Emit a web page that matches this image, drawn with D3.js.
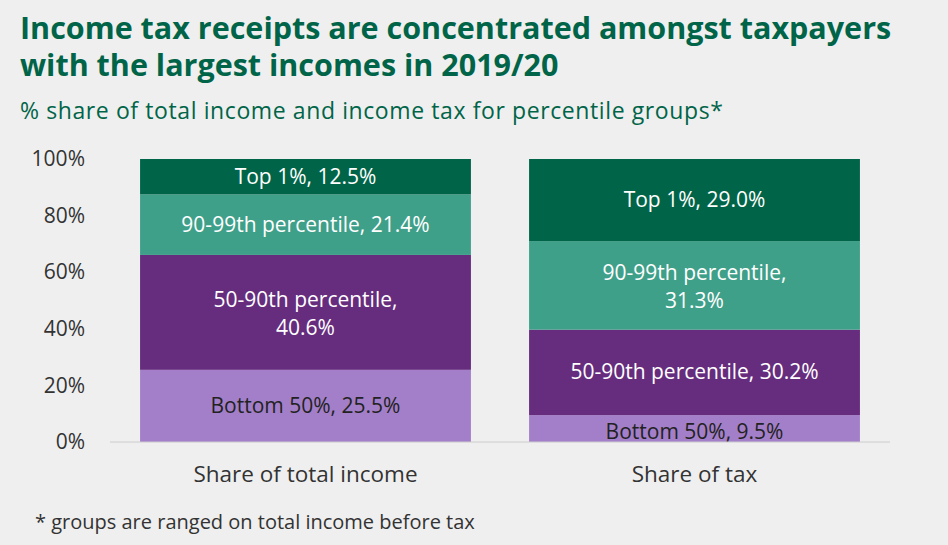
<!DOCTYPE html>
<html><head><meta charset="utf-8">
<script src="https://cdn.jsdelivr.net/npm/d3@7"></script>
<style>body{margin:0;background:#efefef;}svg{font-family:"Open Sans",Lato,sans-serif;}</style>
</head><body><div id="chart"></div>
<script>
// DATA
const categories = ["Share of total income", "Share of tax"];
const groups = ["Bottom 50%", "50-90th percentile", "90-99th percentile", "Top 1%"];
const incomeShare = [25.5, 40.6, 21.4, 12.5];
const taxShare = [9.5, 30.2, 31.3, 29.0];
const yTicks = [0, 20, 40, 60, 80, 100];
const colors = ["#a47fc9", "#662d7e", "#3fa08a", "#006548"];

const W = 948, H = 545;
const svg = d3.select("#chart").append("svg").attr("width", W).attr("height", H);
svg.append("rect").attr("width", W).attr("height", H).attr("fill", "#efefef");

// titles
const title = ["Income tax receipts are concentrated amongst taxpayers", "with the largest incomes in 2019/20"];
title.forEach((t, i) => svg.append("text").attr("x", 20).attr("y", 39 + i * 37)
    .attr("font-size", 30.5).attr("font-weight", "bold").attr("fill", "#006548").text(t));
svg.append("text").attr("x", 20).attr("y", 119).attr("font-size", 23).attr("letter-spacing", 0.6).attr("fill", "#006548")
    .text("% share of total income and income tax for percentile groups*");
svg.append("text").attr("x", 35).attr("y", 529).attr("font-size", 20).attr("fill", "#333")
    .text("* groups are ranged on total income before tax");

// scales
const x = d3.scaleBand().domain(categories).range([111, 889]).paddingInner(0.1495).paddingOuter(0.0747);
const y = d3.scaleLinear().domain([0, 100]).range([442, 159]);

const rows = categories.map((c, ci) => {
    const vals = ci === 0 ? incomeShare : taxShare;
    let acc = 0;
    return vals.map((v, gi) => { const d = { cat: c, group: groups[gi], v, y0: acc, y1: acc + v, c: colors[gi] }; acc += v; return d; });
}).flat();

svg.selectAll("rect.bar").data(rows).enter().append("rect")
    .attr("x", d => x(d.cat)).attr("width", x.bandwidth())
    .attr("y", d => y(Math.min(d.y1, 100))).attr("height", d => y(d.y0) - y(Math.min(d.y1, 100)))
    .attr("fill", d => d.c);

// labels (two-line wrap for some)
const wrap = { "Share of total income|50-90th percentile": true, "Share of tax|90-99th percentile": true };
rows.forEach(d => {
    const cx = x(d.cat) + x.bandwidth() / 2;
    let cy = (y(d.y0) + y(Math.min(d.y1, 100))) / 2;
    if (d.cat === "Share of tax" && d.group === "Bottom 50%") cy = y(d.y0) - 10;
    const t = svg.append("text").attr("text-anchor", "middle").attr("font-size", 21).attr("fill", "#fff");
    if (d.group === "Bottom 50%") t.attr("fill", "#222");
    if (wrap[d.cat + "|" + d.group]) {
        t.append("tspan").attr("x", cx).attr("y", cy - 5).text(d.group + ",");
        t.append("tspan").attr("x", cx).attr("y", cy + 23).text(d.v.toFixed(1) + "%");
    } else {
        t.attr("x", cx).attr("y", cy + 7).text(`${d.group}, ${d.v.toFixed(1)}%`);
    }
});

// axes
const yAxis = svg.append("g").attr("transform", "translate(88,0)")
    .call(d3.axisLeft(y).tickValues(yTicks).tickFormat(d => d + "%").tickSize(0));
yAxis.select(".domain").remove();
yAxis.selectAll("text").attr("font-size", 21).attr("fill", "#333").attr("font-family", "Open Sans");

svg.append("line").attr("x1", 110).attr("x2", 890).attr("y1", y(0)).attr("y2", y(0)).attr("stroke", "#ccc");

const xAxis = svg.append("g").attr("transform", `translate(0,${y(0)})`)
    .call(d3.axisBottom(x).tickSize(0).tickPadding(24));
xAxis.select(".domain").remove();
xAxis.selectAll("text").attr("font-size", 22.5).attr("fill", "#333").attr("font-family", "Open Sans");
</script></body></html>
